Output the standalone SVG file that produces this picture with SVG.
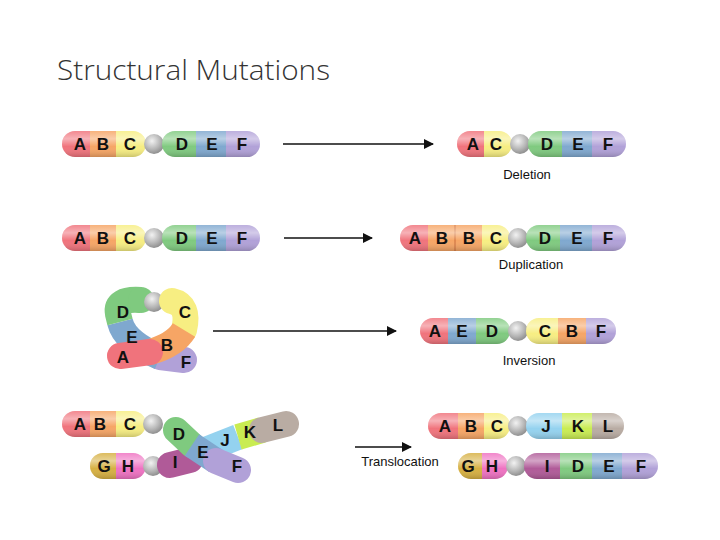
<svg xmlns="http://www.w3.org/2000/svg" width="720" height="540" viewBox="0 0 720 540">
<defs>
<style>
.l{font-family:"Liberation Sans",Arial,sans-serif;font-weight:bold;font-size:17px;fill:#111;text-anchor:middle}
.cap{font-family:"Liberation Sans",Arial,sans-serif;font-size:13px;fill:#111;text-anchor:middle}
.ar{stroke:#111;stroke-width:1.5;fill:none;marker-end:url(#ah)}
.A{fill:#f0737c}.B{fill:#f6a565}.C{fill:#f7ee82}.D{fill:#7fca7f}.E{fill:#7fa8cf}.F{fill:#b1a1d8}
.G{fill:#d6b042}.H{fill:#ef72c2}.I{fill:#b05a98}.J{fill:#94d2ef}.K{fill:#c9ec52}.L{fill:#b9aca3}
.sA{stroke:#f0737c}.sB{stroke:#f6a565}.sC{stroke:#f7ee82}.sD{stroke:#7fca7f}.sE{stroke:#7fa8cf}.sF{stroke:#b1a1d8}.sI{stroke:#b05a98}.sJ{stroke:#94d2ef}.sK{stroke:#c9ec52}.sL{stroke:#b9aca3}
.t{fill:none;stroke-width:26;stroke-linecap:round}
.tb{fill:none;stroke-width:26;stroke-linecap:butt}
</style>
<marker id="ah" markerWidth="10" markerHeight="10" refX="9" refY="5" orient="auto" markerUnits="userSpaceOnUse"><path d="M0,0 L10,5 L0,10 z" fill="#111"/></marker>
<linearGradient id="sh" x1="0" y1="0" x2="0" y2="1"><stop offset="0" stop-color="#fff" stop-opacity="0.15"/><stop offset="0.3" stop-color="#fff" stop-opacity="0.45"/><stop offset="0.6" stop-color="#fff" stop-opacity="0"/><stop offset="1" stop-color="#000" stop-opacity="0.18"/></linearGradient>
<radialGradient id="cg" cx="0.4" cy="0.35" r="0.7"><stop offset="0" stop-color="#f2f2f2"/><stop offset="0.6" stop-color="#b5b5b5"/><stop offset="1" stop-color="#888"/></radialGradient>
<clipPath id="c1"><rect x="62" y="131" width="84" height="26" rx="13"/></clipPath>
<clipPath id="c2"><rect x="162" y="131" width="98" height="26" rx="13"/></clipPath>
<clipPath id="c3"><rect x="457" y="131" width="55" height="26" rx="13"/></clipPath>
<clipPath id="c4"><rect x="528" y="131" width="98" height="26" rx="13"/></clipPath>
<clipPath id="c5"><rect x="62" y="225" width="84" height="26" rx="13"/></clipPath>
<clipPath id="c6"><rect x="162" y="225" width="98" height="26" rx="13"/></clipPath>
<clipPath id="c7"><rect x="400" y="225" width="110" height="26" rx="13"/></clipPath>
<clipPath id="c8"><rect x="526" y="225" width="100" height="26" rx="13"/></clipPath>
<clipPath id="c9"><rect x="420" y="318" width="90" height="26" rx="13"/></clipPath>
<clipPath id="c10"><rect x="526" y="318" width="90" height="26" rx="13"/></clipPath>
<clipPath id="c11"><rect x="62" y="411" width="84" height="26" rx="13"/></clipPath>
<clipPath id="c12"><rect x="90" y="453" width="56" height="26" rx="13"/></clipPath>
<clipPath id="c13"><rect x="428" y="413" width="82" height="26" rx="13"/></clipPath>
<clipPath id="c14"><rect x="526" y="413" width="98" height="26" rx="13"/></clipPath>
<clipPath id="c15"><rect x="458" y="453" width="50" height="26" rx="13"/></clipPath>
<clipPath id="c16"><rect x="524" y="453" width="134" height="26" rx="13"/></clipPath>
</defs>
<rect width="720" height="540" fill="#fff"/>
<text x="57" y="80" font-family="'Open Sans',Lato,sans-serif" font-weight="300" font-size="28" fill="#333" textLength="273" lengthAdjust="spacingAndGlyphs">Structural Mutations</text>

<g id="connectors">
<line class="ar" x1="283" y1="144" x2="433" y2="144"/>
<line class="ar" x1="284" y1="238" x2="372" y2="238"/>
<line class="ar" x1="213" y1="331" x2="396" y2="331"/>
<line class="ar" x1="355" y1="447" x2="411" y2="447"/>
</g>

<g id="deletion-before">
<g clip-path="url(#c1)"><rect class="A" x="62" y="131" width="28" height="26"/><rect class="B" x="90" y="131" width="26" height="26"/><rect class="C" x="116" y="131" width="30" height="26"/><rect fill="url(#sh)" x="62" y="131" width="84" height="26"/></g>
<circle cx="154" cy="144" r="10" fill="url(#cg)"/>
<g clip-path="url(#c2)"><rect class="D" x="162" y="131" width="34" height="26"/><rect class="E" x="196" y="131" width="30" height="26"/><rect class="F" x="226" y="131" width="34" height="26"/><rect fill="url(#sh)" x="162" y="131" width="98" height="26"/></g>
<text class="l" x="80" y="150">A</text><text class="l" x="103" y="150">B</text><text class="l" x="130" y="150">C</text><text class="l" x="182" y="150">D</text><text class="l" x="212" y="150">E</text><text class="l" x="242" y="150">F</text>
</g>
<g id="deletion-after">
<g clip-path="url(#c3)"><rect class="A" x="457" y="131" width="27" height="26"/><rect class="C" x="484" y="131" width="28" height="26"/><rect fill="url(#sh)" x="457" y="131" width="55" height="26"/></g>
<circle cx="520" cy="144" r="10" fill="url(#cg)"/>
<g clip-path="url(#c4)"><rect class="D" x="528" y="131" width="34" height="26"/><rect class="E" x="562" y="131" width="30" height="26"/><rect class="F" x="592" y="131" width="34" height="26"/><rect fill="url(#sh)" x="528" y="131" width="98" height="26"/></g>
<text class="l" x="473" y="150">A</text><text class="l" x="496" y="150">C</text><text class="l" x="547" y="150">D</text><text class="l" x="578" y="150">E</text><text class="l" x="608" y="150">F</text>
<text class="cap" x="527" y="179">Deletion</text>
</g>

<g id="duplication-before">
<g clip-path="url(#c5)"><rect class="A" x="62" y="225" width="28" height="26"/><rect class="B" x="90" y="225" width="26" height="26"/><rect class="C" x="116" y="225" width="30" height="26"/><rect fill="url(#sh)" x="62" y="225" width="84" height="26"/></g>
<circle cx="154" cy="238" r="10" fill="url(#cg)"/>
<g clip-path="url(#c6)"><rect class="D" x="162" y="225" width="34" height="26"/><rect class="E" x="196" y="225" width="30" height="26"/><rect class="F" x="226" y="225" width="34" height="26"/><rect fill="url(#sh)" x="162" y="225" width="98" height="26"/></g>
<text class="l" x="80" y="244">A</text><text class="l" x="103" y="244">B</text><text class="l" x="130" y="244">C</text><text class="l" x="182" y="244">D</text><text class="l" x="212" y="244">E</text><text class="l" x="242" y="244">F</text>
</g>
<g id="duplication-after">
<g clip-path="url(#c7)"><rect class="A" x="400" y="225" width="28" height="26"/><rect class="B" x="428" y="225" width="27" height="26"/><rect class="B" x="455" y="225" width="27" height="26"/><line x1="455" y1="225" x2="455" y2="251" stroke="#c86a3a" stroke-width="1"/><rect class="C" x="482" y="225" width="28" height="26"/><rect fill="url(#sh)" x="400" y="225" width="110" height="26"/></g>
<circle cx="518" cy="238" r="10" fill="url(#cg)"/>
<g clip-path="url(#c8)"><rect class="D" x="526" y="225" width="34" height="26"/><rect class="E" x="560" y="225" width="32" height="26"/><rect class="F" x="592" y="225" width="34" height="26"/><rect fill="url(#sh)" x="526" y="225" width="100" height="26"/></g>
<text class="l" x="415" y="244">A</text><text class="l" x="442" y="244">B</text><text class="l" x="469" y="244">B</text><text class="l" x="496" y="244">C</text><text class="l" x="545" y="244">D</text><text class="l" x="577" y="244">E</text><text class="l" x="608" y="244">F</text>
<text class="cap" x="531" y="269">Duplication</text>
</g>

<g id="inversion-before">
<path class="t sF" d="M160,357 L184,360"/>
<path class="tb sE" d="M120,322 Q125,342 160,357"/>
<path class="tb sD" d="M141,300 Q115,298 118,314 L120,322"/>
<path class="t sD" d="M141,300 L141,300"/>
<circle cx="154" cy="302" r="10" fill="url(#cg)"/>
<path class="t sC" d="M172,301 Q190,305 184,330"/>
<path class="tb sB" d="M150,352 Q175,345 184,330"/>
<path class="t sA" d="M120,356 L150,352"/>
<text class="l" x="123" y="318">D</text><text class="l" x="185" y="318">C</text><text class="l" x="132" y="343">E</text><text class="l" x="167" y="351">B</text><text class="l" x="123" y="363">A</text><text class="l" x="186" y="368">F</text>
</g>
<g id="inversion-after">
<g clip-path="url(#c9)"><rect class="A" x="420" y="318" width="28" height="26"/><rect class="E" x="448" y="318" width="28" height="26"/><rect class="D" x="476" y="318" width="34" height="26"/><rect fill="url(#sh)" x="420" y="318" width="90" height="26"/></g>
<circle cx="518" cy="331" r="10" fill="url(#cg)"/>
<g clip-path="url(#c10)"><rect class="C" x="526" y="318" width="32" height="26"/><rect class="B" x="558" y="318" width="28" height="26"/><rect class="F" x="586" y="318" width="30" height="26"/><rect fill="url(#sh)" x="526" y="318" width="90" height="26"/></g>
<text class="l" x="435" y="337">A</text><text class="l" x="462" y="337">E</text><text class="l" x="492" y="337">D</text><text class="l" x="545" y="337">C</text><text class="l" x="572" y="337">B</text><text class="l" x="601" y="337">F</text>
<text class="cap" x="529" y="365">Inversion</text>
</g>

<g id="translocation-before">
<g clip-path="url(#c11)"><rect class="A" x="62" y="411" width="28" height="26"/><rect class="B" x="90" y="411" width="26" height="26"/><rect class="C" x="116" y="411" width="30" height="26"/><rect fill="url(#sh)" x="62" y="411" width="84" height="26"/></g>
<circle cx="153" cy="424" r="10" fill="url(#cg)"/>
<g clip-path="url(#c12)"><rect class="G" x="90" y="453" width="26" height="26"/><rect class="H" x="116" y="453" width="30" height="26"/><rect fill="url(#sh)" x="90" y="453" width="56" height="26"/></g>
<circle cx="153" cy="466" r="10" fill="url(#cg)"/>
<path class="t sI" d="M170,465 L190,460"/>
<path class="tb sJ" d="M205,450 L238,437"/>
<path class="tb sK" d="M238,437 L262,430"/>
<path class="t sL" d="M262,430 L286,424"/>
<path class="t sD" d="M176,430 L192,445"/>
<path class="tb sE" d="M192,445 L216,461"/>
<path class="t sF" d="M216,461 L238,470"/>
<text class="l" x="100" y="430">B</text><text class="l" x="80" y="430">A</text><text class="l" x="130" y="430">C</text>
<text class="l" x="104" y="472">G</text><text class="l" x="128" y="472">H</text><text class="l" x="175" y="468">I</text>
<text class="l" x="179" y="440">D</text><text class="l" x="203" y="458">E</text><text class="l" x="237" y="472">F</text>
<text class="l" x="225" y="446">J</text><text class="l" x="250" y="438">K</text><text class="l" x="278" y="431">L</text>
</g>
<g id="translocation-after">
<g clip-path="url(#c13)"><rect class="A" x="428" y="413" width="30" height="26"/><rect class="B" x="458" y="413" width="26" height="26"/><rect class="C" x="484" y="413" width="26" height="26"/><rect fill="url(#sh)" x="428" y="413" width="82" height="26"/></g>
<circle cx="518" cy="426" r="10" fill="url(#cg)"/>
<g clip-path="url(#c14)"><rect class="J" x="526" y="413" width="36" height="26"/><rect class="K" x="562" y="413" width="30" height="26"/><rect class="L" x="592" y="413" width="32" height="26"/><rect fill="url(#sh)" x="526" y="413" width="98" height="26"/></g>
<g clip-path="url(#c15)"><rect class="G" x="458" y="453" width="24" height="26"/><rect class="H" x="482" y="453" width="26" height="26"/><rect fill="url(#sh)" x="458" y="453" width="50" height="26"/></g>
<circle cx="516" cy="466" r="10" fill="url(#cg)"/>
<g clip-path="url(#c16)"><rect class="I" x="524" y="453" width="36" height="26"/><rect class="D" x="560" y="453" width="32" height="26"/><rect class="E" x="592" y="453" width="30" height="26"/><rect class="F" x="622" y="453" width="36" height="26"/><rect fill="url(#sh)" x="524" y="453" width="134" height="26"/></g>
<text class="l" x="445" y="432">A</text><text class="l" x="471" y="432">B</text><text class="l" x="497" y="432">C</text><text class="l" x="546" y="432">J</text><text class="l" x="578" y="432">K</text><text class="l" x="608" y="432">L</text>
<text class="l" x="468" y="472">G</text><text class="l" x="492" y="472">H</text><text class="l" x="547" y="472">I</text><text class="l" x="578" y="472">D</text><text class="l" x="609" y="472">E</text><text class="l" x="641" y="472">F</text>
<text class="cap" x="400" y="466">Translocation</text>
</g>
</svg>
